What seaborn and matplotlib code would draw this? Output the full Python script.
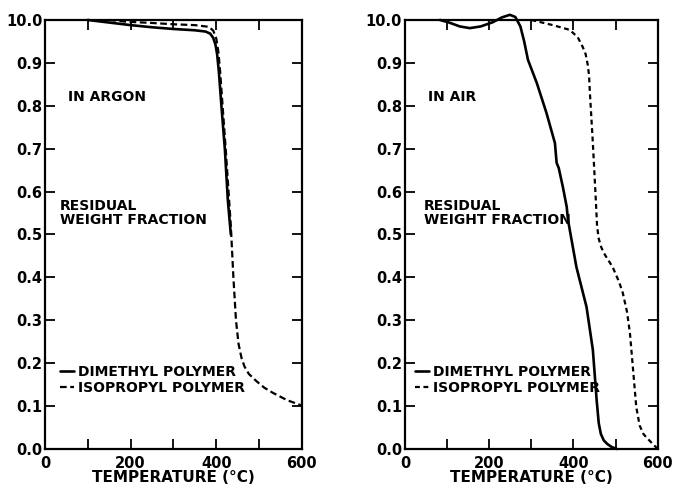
import numpy as np
import pandas as pd
import matplotlib
matplotlib.use("Agg")
import matplotlib.pyplot as plt
import seaborn as sns

# Argon atmosphere
argon_dimethyl_temp = [100, 150, 200, 250, 300, 350, 375, 386, 393, 398, 402, 406, 412, 420, 427, 434]
argon_dimethyl_frac = [1.0, 0.994, 0.988, 0.983, 0.979, 0.976, 0.973, 0.968, 0.958, 0.943, 0.92, 0.88, 0.80, 0.70, 0.58, 0.50]
argon_isopropyl_temp = [150, 190, 250, 300, 350, 383, 393, 400, 405, 409, 414, 422, 434, 440, 446, 452, 459, 466, 476, 494, 512, 532, 565, 595, 600]
argon_isopropyl_frac = [1.0, 0.996, 0.993, 0.99, 0.988, 0.984, 0.975, 0.957, 0.925, 0.88, 0.81, 0.70, 0.52, 0.40, 0.30, 0.245, 0.212, 0.192, 0.175, 0.158, 0.143, 0.131, 0.114, 0.103, 0.10]

# Air atmosphere
air_dimethyl_temp = [83, 105, 130, 154, 180, 209, 230, 249, 262, 274, 283, 292, 313, 336, 356, 360, 365, 375, 384, 387, 407, 431, 446, 455, 460, 465, 472, 480, 490, 503]
air_dimethyl_frac = [1.0, 0.994, 0.985, 0.981, 0.985, 0.995, 1.006, 1.012, 1.007, 0.985, 0.95, 0.907, 0.853, 0.783, 0.713, 0.667, 0.655, 0.61, 0.564, 0.534, 0.424, 0.331, 0.231, 0.114, 0.06, 0.035, 0.02, 0.012, 0.005, 0.0]
air_isopropyl_temp = [300, 351, 391, 410, 422, 429, 434, 437, 439, 446, 452, 456, 460, 466, 475, 493, 508, 517, 527, 534, 541, 549, 557, 566, 575, 585, 600]
air_isopropyl_frac = [1.0, 0.988, 0.977, 0.96, 0.937, 0.92, 0.895, 0.87, 0.83, 0.713, 0.60, 0.52, 0.49, 0.47, 0.452, 0.424, 0.39, 0.364, 0.32, 0.27, 0.19, 0.098, 0.055, 0.035, 0.025, 0.015, 0.0]

x_ticks = [0, 100, 200, 300, 400, 500, 600]
x_tick_labels = ["0", "", "200", "", "400", "", "600"]
y_ticks = [0.0, 0.1, 0.2, 0.3, 0.4, 0.5, 0.6, 0.7, 0.8, 0.9, 1.0]
y_tick_labels = ["0.0", "0.1", "0.2", "0.3", "0.4", "0.5", "0.6", "0.7", "0.8", "0.9", "10.0"]

sns.set_style("ticks")
plt.rcParams["font.family"] = ["DejaVu Sans"]
plt.rcParams["font.weight"] = "bold"
plt.rcParams["text.color"] = "black"
plt.rcParams["xtick.color"] = "black"
plt.rcParams["ytick.color"] = "black"
plt.rcParams["axes.edgecolor"] = "black"
plt.rcParams["axes.labelcolor"] = "black"

fig = plt.figure(figsize=(6.76, 4.92), dpi=100)
ax_argon = fig.add_axes([0.0666, 0.0874, 0.380, 0.872])
ax_air = fig.add_axes([0.599, 0.0874, 0.374, 0.872])

panels = [
    (ax_argon, "IN ARGON", argon_dimethyl_temp, argon_dimethyl_frac,
     argon_isopropyl_temp, argon_isopropyl_frac, (3.0, 1.6), 0.058, 0.058),
    (ax_air, "IN AIR", air_dimethyl_temp, air_dimethyl_frac,
     air_isopropyl_temp, air_isopropyl_frac, (2.2, 1.6), 0.04, 0.075),
]

for ax, title, dt, df_, it, if_, dash, leg_x, res_x in panels:
    dim = pd.DataFrame({"T": dt, "W": df_})
    iso = pd.DataFrame({"T": it, "W": if_})
    sns.lineplot(data=dim, x="T", y="W", ax=ax, color="black", linewidth=1.9,
                 label="DIMETHYL POLYMER", sort=False, clip_on=False)
    sns.lineplot(data=iso, x="T", y="W", ax=ax, color="black", linewidth=1.6,
                 label="ISOPROPYL POLYMER", sort=False, clip_on=False,
                 dashes=False, linestyle=(0, dash))

    ax.set_xlim(0, 600)
    ax.set_ylim(0, 1.0)
    ax.set_xticks(x_ticks)
    ax.set_xticklabels(x_tick_labels)
    ax.set_yticks(y_ticks)
    ax.set_yticklabels(y_tick_labels)
    ax.tick_params(direction="in", length=7, width=1.3, top=True, right=True,
                   labelsize=10.5, pad=2)
    ax.tick_params(axis="x", pad=5)
    for s in ax.spines.values():
        s.set_linewidth(1.6)
        s.set_visible(True)

    ax.set_xlabel("TEMPERATURE (°C)", fontsize=11, fontweight="bold", labelpad=-1)
    ax.set_ylabel("")

    ax.text(0.09, 0.82, title, transform=ax.transAxes, fontsize=10,
            fontweight="bold", va="center", ha="left")
    ax.text(res_x, 0.55, "RESIDUAL\nWEIGHT FRACTION",
            transform=ax.transAxes, fontsize=10, fontweight="bold",
            va="center", ha="left", linespacing=1.0)

    ax.legend(loc="upper left", bbox_to_anchor=(leg_x, 0.195), frameon=False,
              handlelength=1.0, handletextpad=0.3, labelspacing=0.1,
              borderaxespad=0, borderpad=0, fontsize=10)

fig.savefig("out.png", dpi=100)
